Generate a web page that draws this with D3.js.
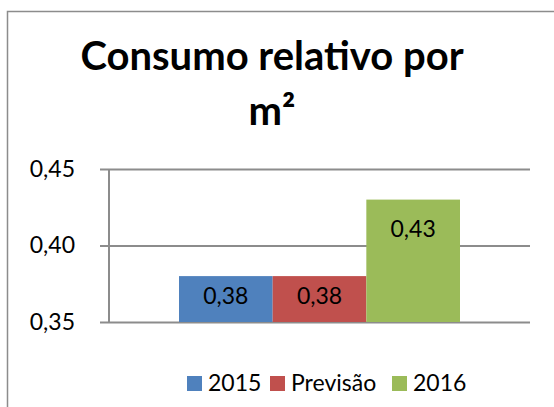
<!DOCTYPE html>
<html>
<head>
<meta charset="utf-8">
<script src="https://cdn.jsdelivr.net/npm/d3@7"></script>
<style>
  body { margin: 0; background: #fff; }
  svg { display: block; font-family: Lato, "Open Sans", sans-serif; }
</style>
</head>
<body>
<svg width="554" height="407"></svg>
<script>
// data
var series = ["2015", "Previsão", "2016"];
var values = [0.38, 0.38, 0.43];
var colors = ["#4f81bd", "#c0504d", "#9bbb59"];
var yTicks = [0.35, 0.40, 0.45];
var titleLines = ["Consumo relativo por", "m²"];

var svg = d3.select("svg");
var pt = d3.formatLocale({ decimal: ",", thousands: ".", grouping: [3], currency: ["", ""] });
var fmt = pt.format(".2f");

// chart border (runs past the window on the right / bottom)
svg.append("rect")
  .attr("x", 7.5).attr("y", 11.5)
  .attr("width", 600).attr("height", 500)
  .attr("fill", "none")
  .attr("stroke", "#8c8c8c")
  .attr("stroke-width", 1.5);

// title
svg.append("g")
  .selectAll("text")
  .data(titleLines)
  .enter().append("text")
  .attr("x", 272)
  .attr("y", (d, i) => 70 + i * 55)
  .attr("text-anchor", "middle")
  .attr("font-weight", "bold")
  .attr("font-size", 40)
  .attr("fill", "#000")
  .text(d => d);

var plotL = 109, plotR = 530, plotT = 169, plotB = 322;

var y = d3.scaleLinear().domain([0.35, 0.45]).range([plotB, plotT]);
var x = d3.scaleBand().domain(series).range([179, 460]).padding(0);

// gridlines + tick marks
var yAxis = d3.axisLeft(y)
  .tickValues(yTicks)
  .tickSize(-(plotR - plotL))
  .tickSizeOuter(0)
  .tickPadding(25)
  .tickFormat(fmt);

var ga = svg.append("g")
  .attr("transform", `translate(${plotL},0)`)
  .call(yAxis);
ga.select(".domain").remove();
ga.selectAll(".tick line")
  .attr("x1", -9)
  .attr("stroke", "#8c8c8c")
  .attr("stroke-width", 2);
ga.selectAll(".tick text")
  .attr("x", -34)
  .attr("font-size", 23)
  .attr("fill", "#000")
  .attr("font-family", "Lato, 'Open Sans', sans-serif");

// vertical axis line
svg.append("line")
  .attr("x1", plotL).attr("x2", plotL)
  .attr("y1", y(0.45)).attr("y2", y(0.35))
  .attr("stroke", "#8c8c8c")
  .attr("stroke-width", 2);

// bars
svg.append("g")
  .selectAll("rect")
  .data(values)
  .enter().append("rect")
  .attr("x", (d, i) => x(series[i]))
  .attr("y", d => y(d))
  .attr("width", x.bandwidth())
  .attr("height", d => y(0.35) - y(d))
  .attr("fill", (d, i) => colors[i]);

// value labels: centred in short bars, near the top of tall ones
svg.append("g")
  .selectAll("text")
  .data(values)
  .enter().append("text")
  .attr("x", (d, i) => x(series[i]) + x.bandwidth() / 2)
  .attr("y", d => Math.min((y(d) + plotB) / 2 + 5, y(d) + 37))
  .attr("text-anchor", "middle")
  .attr("font-size", 23)
  .attr("fill", "#000")
  .text(d => fmt(d));

// legend
var legendX = [187, 270, 392];
var lg = svg.append("g")
  .selectAll("g")
  .data(series)
  .enter().append("g")
  .attr("transform", (d, i) => `translate(${legendX[i]},376)`);
lg.append("rect")
  .attr("width", 15).attr("height", 15)
  .attr("fill", (d, i) => colors[i]);
lg.append("text")
  .attr("x", 21)
  .attr("y", 15)
  .attr("font-size", 23)
  .attr("fill", "#000")
  .text(d => d);
</script>
</body>
</html>
